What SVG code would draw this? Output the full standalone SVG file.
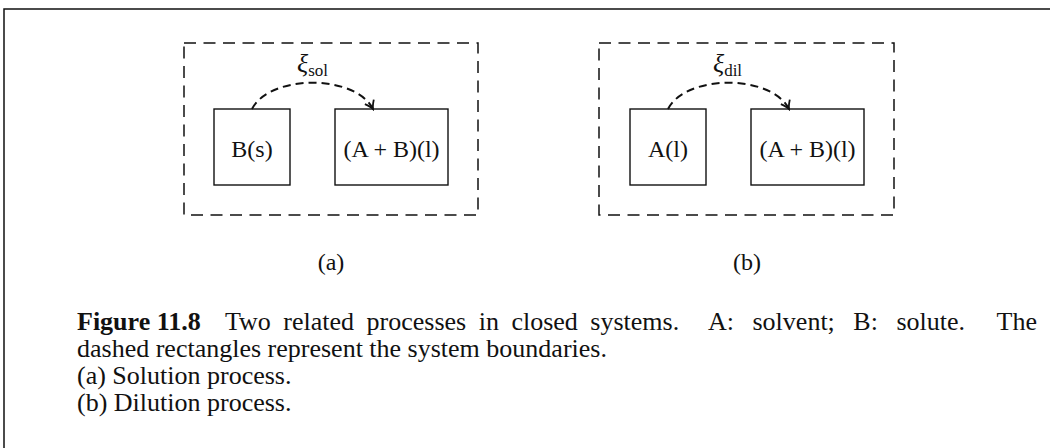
<svg xmlns="http://www.w3.org/2000/svg" width="1050" height="448" viewBox="0 0 1050 448">
<defs>
<style>
text{font-family:"Liberation Serif","Times New Roman",serif;fill:#111}
.lbl{font-size:24px;text-anchor:middle}
.cap{font-size:26px}
.bnd{fill:none;stroke:#111;stroke-width:1.5;stroke-dasharray:12 7.5}
.box{fill:#fff;stroke:#111;stroke-width:1.4}
.arc{fill:none;stroke:#111;stroke-width:2;stroke-dasharray:8 5}
.frame{stroke:#111;stroke-width:1.5;fill:none}
</style>
<marker id="ah" viewBox="-10 -6 12 12" refX="0" refY="0" markerWidth="12" markerHeight="12" markerUnits="userSpaceOnUse" orient="auto">
<path d="M-8,-5 Q-3,-1 0,0 Q-3,1 -8,5" fill="none" stroke="#111" stroke-width="1.8"/>
</marker>
</defs>
<path class="frame" d="M4,448 V9 H1050"/>
<g id="boundary-a"><rect class="bnd" x="184" y="43" width="294" height="172"/></g>
<g id="boundary-b"><rect class="bnd" x="599" y="43" width="295" height="172"/></g>
<g id="node-Bs"><rect class="box" x="214" y="109" width="76" height="76"/><text class="lbl" x="252" y="157">B(s)</text></g>
<g id="node-ABl-a"><rect class="box" x="335" y="109" width="113" height="76"/><text class="lbl" x="391.5" y="157">(A + B)(l)</text></g>
<g id="node-Al"><rect class="box" x="630" y="109" width="76" height="76"/><text class="lbl" x="668" y="157">A(l)</text></g>
<g id="node-ABl-b"><rect class="box" x="751" y="109" width="113" height="76"/><text class="lbl" x="807.5" y="157">(A + B)(l)</text></g>
<g id="connectors">
<path class="arc" d="M252,109 C270,74 355,74 373,109" marker-end="url(#ah)"/>
<path class="arc" d="M668,109 C686,74 771,74 789,109" marker-end="url(#ah)"/>
</g>
<g id="arc-labels">
<text x="297" y="72" style="font-size:26px;font-style:italic">ξ<tspan style="font-style:normal;font-size:17px" dy="4">sol</tspan></text>
<text x="713" y="72" style="font-size:26px;font-style:italic">ξ<tspan style="font-style:normal;font-size:17px" dy="4">dil</tspan></text>
</g>
<text class="lbl" x="331" y="270">(a)</text>
<text class="lbl" x="747" y="270">(b)</text>
<g id="caption" class="cap">
<text x="77" y="330" style="font-weight:bold">Figure 11.8</text>
<text x="225" y="330" style="word-spacing:6px">Two related processes in closed systems.</text>
<text x="708" y="330" style="word-spacing:12px">A: solvent; B: solute.</text>
<text x="1037" y="330" style="text-anchor:end">The</text>
<text x="77" y="357">dashed rectangles represent the system boundaries.</text>
<text x="77" y="384">(a) Solution process.</text>
<text x="77" y="411">(b) Dilution process.</text>
</g>
</svg>
